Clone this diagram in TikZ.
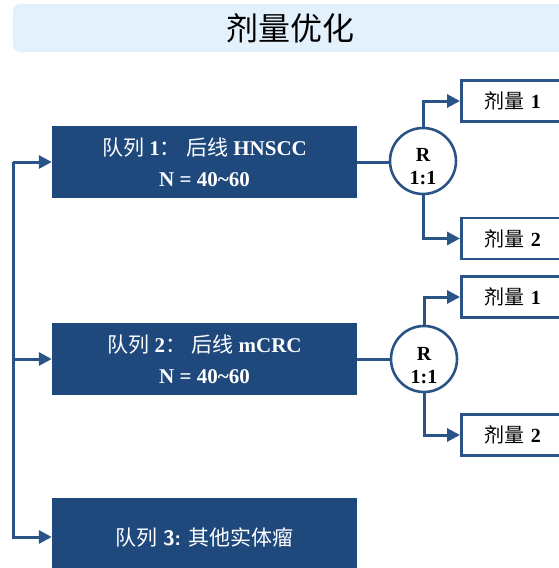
\documentclass[tikz,border=0pt]{standalone}
\usepackage{fontspec}
\setmainfont{Liberation Serif}
\newfontfamily\cjk{Noto Sans CJK SC}
\newcommand\zh[1]{{\mdseries\cjk #1}}
\usetikzlibrary{arrows.meta}
\definecolor{navy}{HTML}{1F497D}
\definecolor{lnc}{HTML}{2A5386}
\definecolor{titlebg}{HTML}{E3F1FD}
\begin{document}
\begin{tikzpicture}[x=1pt,y=-1pt,
  cohort/.style={fill=navy, draw=none, minimum width=305pt, minimum height=72pt, text=white,
    font=\fontsize{21}{31}\selectfont\bfseries, align=center, inner sep=0pt},
  dosebox/.style={draw=lnc, line width=2.6pt, fill=white, anchor=west, minimum height=41pt,
    text width=120pt, inner xsep=23pt, align=left, font=\fontsize{20}{22}\selectfont\bfseries},
  rcircle/.style={circle, draw=lnc, line width=2.6pt, fill=white, minimum size=66pt, inner sep=0pt},
  rtext/.style={font=\fontsize{20}{23}\selectfont\bfseries, align=center, inner sep=0pt},
  conn/.style={draw=lnc, line width=3pt},
  arr/.style={conn, -{Triangle[length=13pt,width=13pt]}}
]
\useasboundingbox (0,0) rectangle (558,568);
% title
\fill[titlebg, rounded corners=7pt] (13,4) rectangle (575,52);
\node (title) at (290,28) {\fontsize{32}{36}\selectfont\cjk 剂量优化};

% cohorts
\node[cohort] (b1) at (204.5,162) {\zh{队列} 1\zh{：} \zh{后线} HNSCC\\N = 40\char`~60};
\node[cohort] (b2) at (204.5,359) {\zh{队列} 2\zh{：} \zh{后线} mCRC\\N = 40\char`~60};
\node[cohort, minimum height=78pt] (b3) at (204.5,537) {\zh{队列} \textsf{3:} \zh{其他实体瘤}};

% randomisation circles
\node[rcircle] (r1) at (423,161) {};
\node[rtext] (r1t) at (423,167) {R\\1:1};
\node[rcircle] (r2) at (424,359) {};
\node[rtext] (r2t) at (424,366) {R\\1:1};

% dose boxes
\node[dosebox] (d11) at (460,101) {\zh{剂量} 1};
\node[dosebox] (d12) at (460,238.5) {\zh{剂量} 2};
\node[dosebox] (d21) at (460,297) {\zh{剂量} 1};
\node[dosebox] (d22) at (460,435) {\zh{剂量} 2};

% left trunk
\coordinate (c1) at (13,162);
\coordinate (c2) at (13,359);
\draw[arr] (c1) -- (b1.west);
\draw[arr] (c2) -- (b2.west);
\draw[arr] (c1) |- (b3.west);

% cohort to circle
\draw[conn] (b1.east) -- (b1.east -| r1.west);
\draw[conn] (b2.east) -- (b2.east -| r2.west);

% circle to doses
\draw[arr] (r1.north) |- (d11.west);
\draw[arr] (r1.south) |- (d12.west);
\draw[arr] (r2.north) |- (d21.west);
\draw[arr] (r2.south) |- (d22.west);
\end{tikzpicture}
\end{document}
